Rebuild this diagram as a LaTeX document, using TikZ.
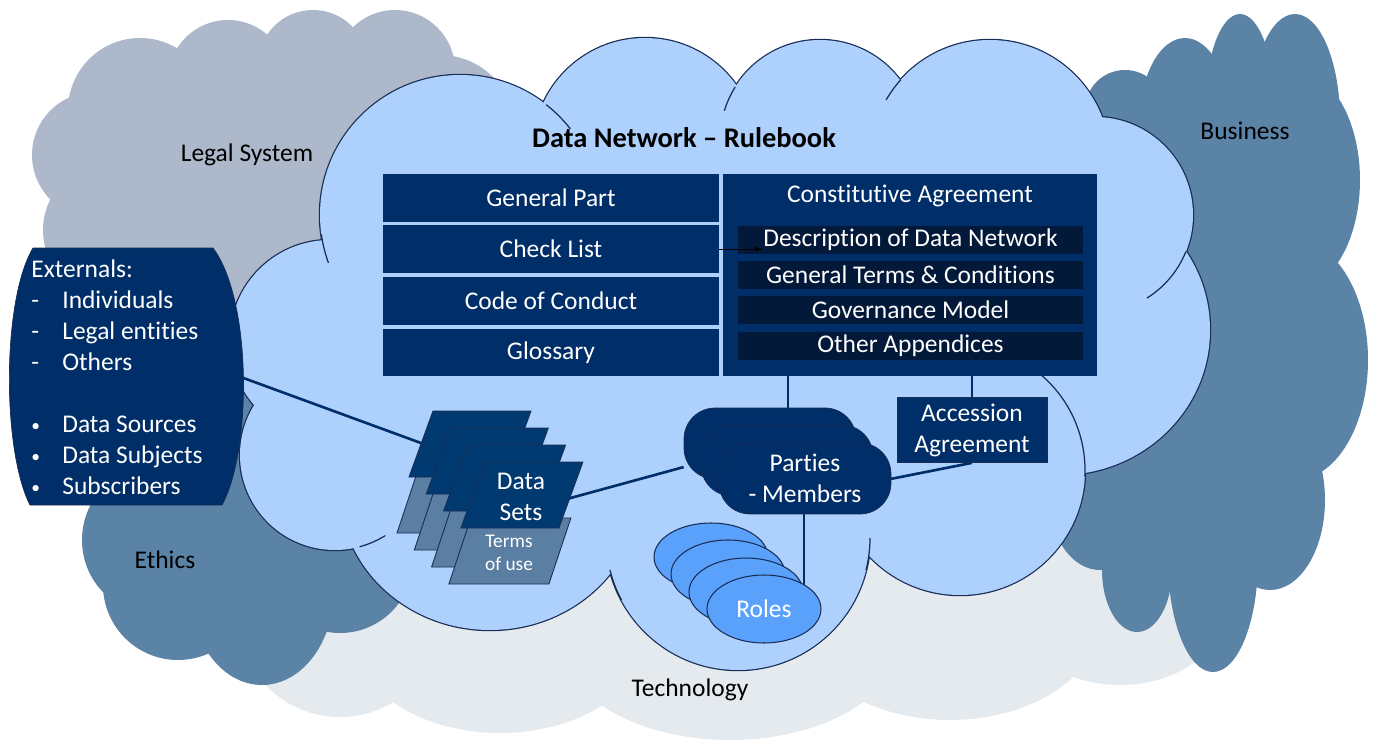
\documentclass[tikz,border=0pt]{standalone}
\usepackage{fontspec}
\setmainfont{Carlito}[Ligatures=NoCommon]
\usetikzlibrary{shapes.geometric,positioning}
\pgfdeclarelayer{back}
\pgfdeclarelayer{links}
\pgfsetlayers{back,links,main}

\definecolor{navy}{RGB}{0,46,104}
\definecolor{deepnavy}{RGB}{3,25,58}
\definecolor{setblue}{RGB}{0,58,112}
\definecolor{termblue}{RGB}{90,127,162}
\definecolor{skyfill}{RGB}{174,208,252}
\definecolor{legalgrey}{RGB}{173,185,202}
\definecolor{steel}{RGB}{91,131,166}
\definecolor{techgrey}{RGB}{229,234,239}
\definecolor{rolefill}{RGB}{90,161,252}
\definecolor{edge}{RGB}{25,45,85}

\newcommand\basefont{\fontsize{14.5}{17.6}\selectfont}
\newcommand\smallfont{\fontsize{11}{13.5}\selectfont}
\newcommand\listdot{\raisebox{0.6pt}{\fontsize{10}{10}\selectfont\textbullet}}

% cloud lobes: x/y/x radius/y radius, in pixels
\newcommand\techlobes{340/620/100/97, 500/630/150/103, 730/640/170/100,
  950/620/150/100, 1120/600/110/85, 750/540/450/130}
\newcommand\legallobes{228/80/60/60, 313/65/55/55, 395/70/60/60, 440/130/75/75,
  140/110/72/72, 95/155/63/63, 110/230/67/67, 260/200/180/130}
\newcommand\ethicslobes{150/540/68/72, 178/585/75/75, 262/590/72/95,
  340/560/73/73, 250/470/150/110}
\newcommand\businesslobes{1125/110/40/40, 1185/120/45/82, 1240/110/35/96,
  1295/120/45/106, 1295/180/65/110, 1295/360/73/120, 1270/500/55/90,
  1213/560/45/112, 1137/570/35/62, 1100/500/50/70, 1200/330/140/250}
\newcommand\netlobes{460/215/140/140, 645/150/112/112, 820/140/100/100,
  990/160/120/120, 1095/215/98/98, 1060/330/150/145, 960/470/125/125,
  738/538/132/132, 490/490/150/140, 335/455/95/95, 330/340/100/100}

\tikzset{
  rowbox/.style={fill=navy, text=white, minimum width=6.72cm,
    minimum height=0.96cm, inner sep=0pt},
  appbox/.style={fill=deepnavy, text=white, minimum width=6.9cm,
    minimum height=0.56cm, inner sep=0pt},
  darkbox/.style={fill=navy, draw=edge, line width=0.4pt, text=white,
    align=center, inner sep=0pt},
  party/.style={darkbox, rounded corners=0.62cm, minimum width=3.44cm,
    minimum height=1.42cm},
  role/.style={ellipse, fill=rolefill, draw=edge, line width=0.6pt,
    minimum width=2.28cm, minimum height=1.36cm, text=white, inner sep=0pt},
  dset/.style={fill=setblue, draw=edge, line width=0.5pt},
  tou/.style={fill=termblue, draw=edge, line width=0.5pt},
  link/.style={draw=navy, line width=1.5pt},
  hook/.style={draw=edge, line width=0.7pt},
  cloudlabel/.style={text=black}
}

\begin{document}
\begin{tikzpicture}[x=0.02cm, y=-0.02cm, font=\basefont]
  \useasboundingbox (0,0) rectangle (1374,747);

  % background clouds
  \begin{pgfonlayer}{back}
    \foreach \cx/\cy/\rx/\ry in \techlobes
      \fill[techgrey] (\cx,\cy) ellipse [x radius=\rx, y radius=\ry];
    \foreach \cx/\cy/\rx/\ry in \legallobes
      \fill[legalgrey] (\cx,\cy) ellipse [x radius=\rx, y radius=\ry];
    \foreach \cx/\cy/\rx/\ry in \ethicslobes
      \fill[steel] (\cx,\cy) ellipse [x radius=\rx, y radius=\ry];
    \foreach \cx/\cy/\rx/\ry in \businesslobes
      \fill[steel] (\cx,\cy) ellipse [x radius=\rx, y radius=\ry];
    % data network cloud: outline first, fill on top
    \foreach \cx/\cy/\rx/\ry in \netlobes
      \draw[edge, line width=1.4pt] (\cx,\cy) ellipse [x radius=\rx, y radius=\ry];
    \foreach \cx/\cy/\rx/\ry in \netlobes
      \fill[skyfill] (\cx,\cy) ellipse [x radius=\rx, y radius=\ry];
    \fill[skyfill] (460,215) -- (645,150) -- (820,140) -- (990,160) -- (1095,215)
      -- (1060,330) -- (960,470) -- (738,538) -- (490,490) -- (335,455)
      -- (330,340) -- cycle;
    % small inner arcs of the cloud
    \draw[hook] plot[domain=160:172, samples=12] ({460+140*cos(\x)},{215+140*sin(\x)});
    \draw[hook] plot[domain=-52:-38, samples=12] ({460+140*cos(\x)},{215+140*sin(\x)});
    \draw[hook] plot[domain=197:212, samples=12] ({820+100*cos(\x)},{140+100*sin(\x)});
    \draw[hook] plot[domain=210:222, samples=12] ({990+120*cos(\x)},{160+120*sin(\x)});
    \draw[hook] plot[domain=22:58, samples=12] ({1095+98*cos(\x)},{215+98*sin(\x)});
    \draw[hook] plot[domain=-50:3, samples=20] ({960+125*cos(\x)},{470+125*sin(\x)});
    \draw[hook] plot[domain=0:14, samples=12] ({738+132*cos(\x)},{538+132*sin(\x)});
    \draw[hook] plot[domain=152:166, samples=12] ({738+132*cos(\x)},{538+132*sin(\x)});
    \draw[hook] plot[domain=58:75, samples=12] ({335+95*cos(\x)},{455+95*sin(\x)});
  \end{pgfonlayer}

  \node[cloudlabel] (legal) at (247,155) {Legal System};
  \node[cloudlabel] (business) at (1245,131) {Business};
  \node[cloudlabel] (ethics) at (165,560) {Ethics};
  \node[cloudlabel] (tech) at (690,690) {Technology};

  \node[font=\fontsize{16.2}{19.5}\selectfont\bfseries] (title) at (684,138)
    {Data Network -- Rulebook};

  % rulebook, left column
  \node[rowbox] (gp) at (551,198) {General Part};
  \node[rowbox] (cl) at (551,249) {Check List};
  \node[rowbox] (cc) at (551,301) {Code of Conduct};
  \node[rowbox] (gl) at (551,352.5) {Glossary};

  % rulebook, right column
  \node[fill=navy, minimum width=7.48cm, minimum height=4.04cm, inner sep=0pt]
    (cagr) at (910,275) {};
  \node[text=white] (catitle) at (910,196) {Constitutive Agreement};
  \node[appbox] (desc) at (910.5,240) {Description of Data Network};
  \node[appbox] (gtc) at (910.5,275) {General Terms \& Conditions};
  \node[appbox] (gov) at (910.5,310) {Governance Model};
  \node[appbox] (other) at (910.5,346) {Other Appendices};
  \draw[-latex, line width=0.4pt, black] (cl.east)
    -- ([xshift=0.5cm]cl.east -| desc.west);

  \node[darkbox, minimum width=3cm, minimum height=1.3cm] (acc) at (972,430)
    {Accession\\Agreement};

  % externals
  \filldraw[fill=navy, draw=edge, line width=0.4pt] (33,248) -- (213,248)
    .. controls (252,300) and (252,450) .. (222,505) -- (30,505)
    .. controls (2,450) and (2,300) .. (33,248);
  \node[text=white, anchor=north west, inner sep=0pt] (ext) at (31,256)
    {\begin{tabular}{@{}p{0.62cm}@{}l@{}}
      \multicolumn{2}{@{}l@{}}{Externals:}\\
      - & Individuals\\
      - & Legal entities\\
      - & Others\\[17.6pt]
      \listdot & Data Sources\\
      \listdot & Data Subjects\\
      \listdot & Subscribers
    \end{tabular}};
  \coordinate (extR) at (238,376);

  % data sets with their terms of use
  \foreach \i in {0,...,3}{
    \pgfmathsetmacro\xo{433+17.3*\i}
    \pgfmathsetmacro\yo{411+17*\i}
    \filldraw[tou] (\xo-14,\yo+56) -- ++(100,0) -- ++(-22,66) -- ++(-100,0) -- cycle;
    \filldraw[dset] (\xo,\yo) -- ++(98,0) -- ++(-24,66) -- ++(-98,0) -- cycle;
  }
  \node[text=white, align=center] (dsets) at (521,496.5) {Data\\Sets};
  \node[text=white, align=center, font=\smallfont] (terms) at (509,553) {Terms\\of use};
  \coordinate (ds1) at (440,450);
  \coordinate (dsR) at (545,505);

  % parties
  \node[party] (pm1) at (770,443.5) {};
  \node[party] (pm2) at (787,460.5) {};
  \node[party] (pm3) at (805,478.5) {Parties\\- Members};
  \coordinate (pmtop) at (788,430);
  \coordinate (pmR) at (850,487);

  % roles
  \node[role] (r1) at (711,557) {};
  \node[role] (r2) at (728,574) {};
  \node[role] (r3) at (746,592) {};
  \node[role] (r4) at (764,609) {Roles};
  \coordinate (roleC) at (804,600);

  % connectors
  \begin{pgfonlayer}{links}
    \draw[link] (extR) -- (ds1);
    \draw[link] (dsR) -- (pm1);
    \draw[link] (pmtop |- cagr.south) -- (pmtop);
    \draw[link] (acc.north |- cagr.south) -- (acc.north);
    \draw[link] (pmR) -- (acc.south);
    \draw[link] (roleC) -- (roleC |- pm3.south);
  \end{pgfonlayer}
\end{tikzpicture}
\end{document}
